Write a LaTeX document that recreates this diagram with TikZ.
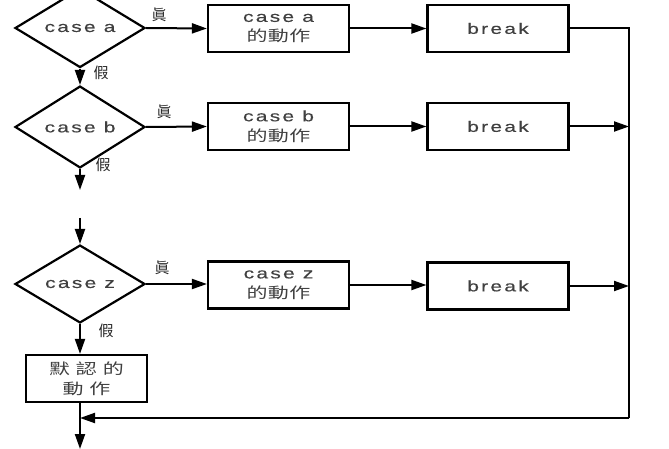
\documentclass[tikz,border=0pt]{standalone}
\usepackage{fontspec}
\setmainfont{Liberation Sans}[FakeStretch=1.4,LetterSpace=15,FakeBold=0.3]
\newfontfamily\cjk{Noto Sans CJK TC}[FakeStretch=1.4,LetterSpace=3]
\newfontfamily\cjklab{Noto Sans CJK TC}
\usetikzlibrary{arrows.meta,shapes.geometric}
\begin{document}
\begin{tikzpicture}[x=1pt,y=-1pt,
  every node/.style={font=\fontsize{15}{20}\selectfont, text=black!75},
  dec/.style={diamond, draw=black, line width=2.2pt, inner sep=0pt, minimum width=130pt, minimum height=58pt},
  act/.style={rectangle, draw=black, line width=2.2pt, minimum width=141pt, minimum height=47pt, align=center, inner sep=0pt},
  lab/.style={font=\cjklab\fontsize{15}{16}\selectfont, text=black!85},
  flow/.style={line width=2pt, -{Triangle[length=15pt,width=10pt]}},
  plain/.style={line width=2pt}
]
\useasboundingbox (0,0) rectangle (669,449);
% decisions
\node[dec] (da) at (80,28) {case a};
\node[dec] (db) at (80,127) {case b};
\node[dec] (dz) at (80,284) {case z};
% actions
\node[act] (aa) at (278.5,28.5) {case a\\{\cjk 的動作}};
\node[act] (ab) at (278.5,126.5) {case b\\{\cjk 的動作}};
\node[act] (az) at (278.5,285) {case z\\{\cjk 的動作}};
% breaks
\node[act] (ba) at (498,28.5) {break};
\node[act] (bb) at (498,126.5) {break};
\node[act] (bz) at (498,286) {break};
% default
\node[act, minimum width=121pt] (df) at (86.5,378.5) {{\cjk 默\hspace{6pt}認\hspace{6pt}的}\\{\cjk 動\hspace{6pt}作}};
% coordinates
\coordinate (bEnd) at (80,190);
\coordinate (zStart) at (80,218);
\coordinate (rTop) at (629,28.5);
\coordinate (rBot) at (629,418);
\coordinate (out) at (80,449);
% labels
\node[lab] (ta) at (159,15) {眞};
\node[lab] (tb) at (164,112) {眞};
\node[lab] (tz) at (162,268) {眞};
\node[lab] (fa) at (101,73) {假};
\node[lab] (fb) at (103,165) {假};
\node[lab] (fz) at (106,331) {假};
% connectors
\draw[flow] (da.south) -- (db.north);
\draw[flow] (db.south) -- (bEnd);
\draw[flow] (zStart) -- (dz.north);
\draw[flow] (dz.south) -- (dz.south |- df.north);
\draw[flow] (da.east) -- (aa.west);
\draw[flow] (db.east) -- (ab.west);
\draw[flow] (dz.east) -- (dz.east -| az.west);
\draw[flow] (aa.east) -- (ba.west);
\draw[flow] (ab.east) -- (bb.west);
\draw[flow] (az.east) -- (az.east -| bz.west);
\draw[plain] (ba.east) -- (rTop) -- (rBot);
\draw[flow] (bb.east) -- (bb.east -| rTop);
\draw[flow] (bz.east) -- (bz.east -| rTop);
\draw[flow] (rBot) -- (rBot -| dz.south);
\draw[flow] (dz.south |- df.south) -- (out);
\end{tikzpicture}
\end{document}
